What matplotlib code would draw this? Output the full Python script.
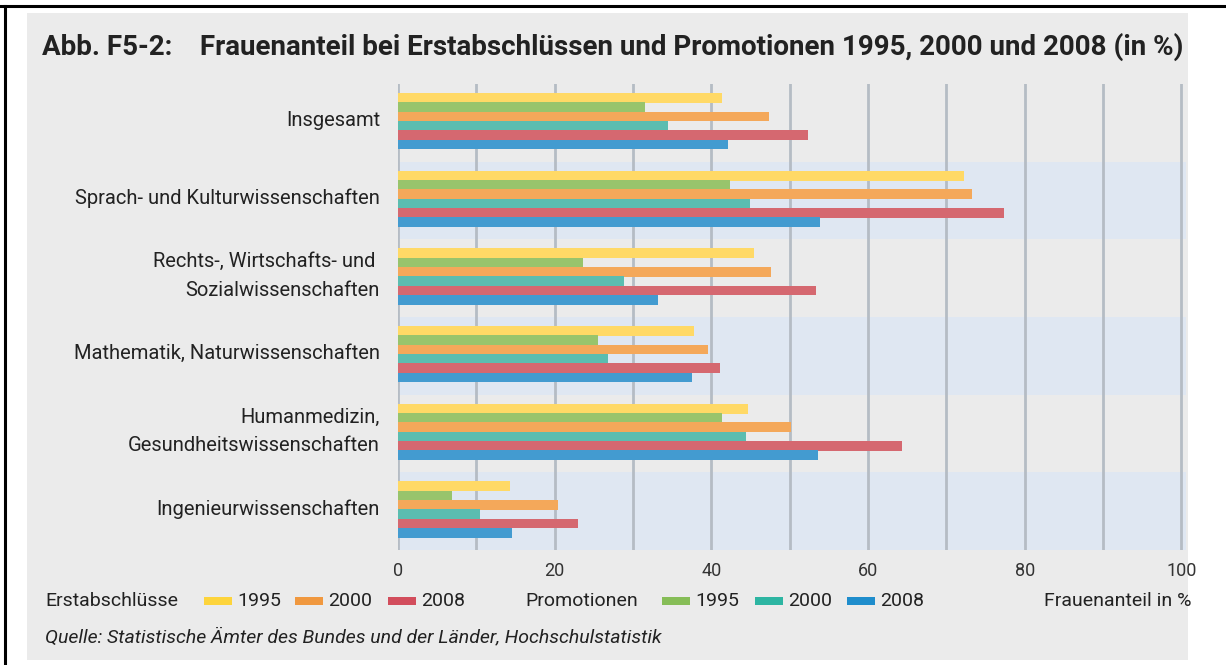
import matplotlib
matplotlib.use("Agg")
import matplotlib.pyplot as plt
from matplotlib.patches import Rectangle
from matplotlib.transforms import blended_transform_factory
import numpy as np

plt.rcParams['font.family'] = ['Roboto', 'DejaVu Sans']

# data (Frauenanteil in %)
categories = ["Insgesamt",
              "Sprach- und Kulturwissenschaften",
              "Rechts-, Wirtschafts- und \nSozialwissenschaften",
              "Mathematik, Naturwissenschaften",
              "Humanmedizin,\nGesundheitswissenschaften",
              "Ingenieurwissenschaften"]
erst_1995 = [41.3, 72.3, 45.5, 37.8, 44.7, 14.3]
prom_1995 = [31.5, 42.4, 23.6, 25.5, 41.4, 6.9]
erst_2000 = [47.3, 73.3, 47.6, 39.6, 50.2, 20.4]
prom_2000 = [34.5, 45.0, 28.9, 26.8, 44.4, 10.5]
erst_2008 = [52.4, 77.4, 53.4, 41.1, 64.4, 23.0]
prom_2008 = [42.1, 53.9, 33.2, 37.5, 53.6, 14.6]
x_ticks = [0, 20, 40, 60, 80, 100]

# bar order top to bottom inside each group: (values, bar colour, legend colour)
series = [(erst_1995, "#ffd966", "#fdd43c"),
          (prom_1995, "#98c46c", "#86bd57"),
          (erst_2000, "#f4a85a", "#f0983f"),
          (prom_2000, "#5bbdb0", "#2db5a2"),
          (erst_2008, "#d56870", "#d24d5c"),
          (prom_2008, "#439bd0", "#1f8dcc")]

W, H = 1226, 665
fig = plt.figure(figsize=(W / 100, H / 100), dpi=100, facecolor="white")

# gray panel and black frame lines
fig.patches.append(Rectangle((27 / W, 1 - 660 / H), (1188 - 27) / W, (660 - 13) / H,
                             transform=fig.transFigure, facecolor="#ebebeb",
                             edgecolor="none", zorder=-5))
fig.lines.append(plt.Line2D([0, 1], [1 - 5.5 / H, 1 - 5.5 / H], transform=fig.transFigure,
                            color="black", lw=2.2))
fig.lines.append(plt.Line2D([5 / W, 5 / W], [0, 1 - 5.5 / H], transform=fig.transFigure,
                            color="black", lw=2.2))

ax = fig.add_axes([398 / W, 1 - 550 / H, (1186 - 398) / W, (550 - 84) / H])
ax.set_zorder(2)
ax.set_facecolor("none")
ax.set_xlim(0, 100.6)
ax.set_ylim(len(categories) - 0.5, -0.5)

for i in range(len(categories)):
    if i % 2 == 1:
        ax.axhspan(i - 0.5, i + 0.5, color="#dfe7f2", zorder=0, lw=0)

for xv in range(0, 101, 10):
    ax.axvline(xv, color="#b5bcc4", lw=2, zorder=1)

step = 0.12
h = 0.125
y = np.arange(len(categories))
for k, (vals, col, _) in enumerate(series):
    off = (k - 2.5) * step - 0.02
    ax.barh(y + off, vals, height=h, color=col, zorder=2, lw=0)

for s in ax.spines.values():
    s.set_visible(False)
ax.set_yticks([])
ax.set_xticks(x_ticks)
ax.set_xticklabels([str(t) for t in x_ticks], fontsize=13, color="#333333")
ax.tick_params(axis="x", length=0, pad=9)

tr = blended_transform_factory(fig.transFigure, ax.transData)
for i, lab in enumerate(categories):
    ax.text(380 / W, i - 0.03, lab, transform=tr, ha="right", va="center",
            fontsize=14.5, color="#222222", linespacing=1.63)

# title
fig.text(42 / W, 1 - 47 / H, "Abb. F5-2:    Frauenanteil bei Erstabschlüssen und Promotionen 1995, 2000 und 2008 (in %)",
         fontsize=20, fontweight="bold", color="#222222", va="center", ha="left")

# legend
ly = 1 - 601 / H
fig.text(45 / W, ly, "Erstabschlüsse", fontsize=14, color="#222222", va="center")
fig.text(525 / W, ly, "Promotionen", fontsize=14, color="#222222", va="center")
patch_x = [204, 295, 388, 662, 755, 847]
years = ["1995", "2000", "2008", "1995", "2000", "2008"]
legend_order = [0, 2, 4, 1, 3, 5]
for px, yr, k in zip(patch_x, years, legend_order):
    fig.patches.append(Rectangle((px / W, 1 - 605 / H), 28 / W, 8 / H,
                                 transform=fig.transFigure, facecolor=series[k][2],
                                 edgecolor="none"))
    fig.text((px + 33) / W, ly, yr, fontsize=14, color="#222222", va="center")
fig.text(1192 / W, ly, "Frauenanteil in %", fontsize=14, color="#222222",
         va="center", ha="right")

fig.text(45 / W, 1 - 637 / H,
         "Quelle: Statistische Ämter des Bundes und der Länder, Hochschulstatistik",
         fontsize=14, style="italic", color="#222222", va="center")

fig.savefig("out.png", dpi=100, facecolor="white")
